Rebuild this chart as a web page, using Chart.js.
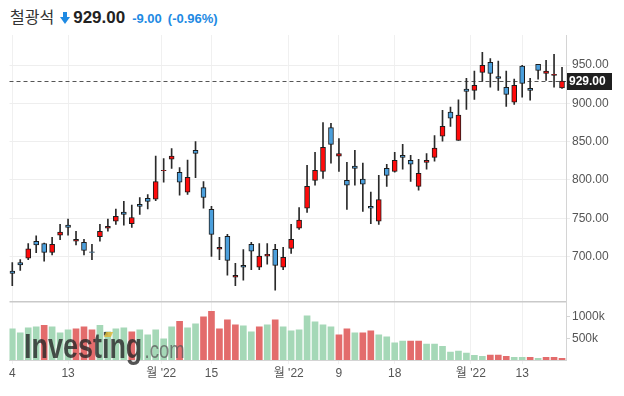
<!DOCTYPE html>
<html>
<head>
<meta charset="utf-8">
<script src="https://cdn.jsdelivr.net/npm/chart.js@4.4.0/dist/chart.umd.min.js"></script>
<style>
  html,body{margin:0;padding:0;background:#fff;}
  body{width:624px;height:396px;position:relative;overflow:hidden;font-family:Arial,"Liberation Sans",sans-serif;}
  #hdr{position:absolute;left:10px;top:4px;height:26px;display:flex;align-items:baseline;white-space:nowrap;}
  #name{font-family:"Noto Sans CJK KR",sans-serif;font-size:16px;color:#333;margin-right:6px;}
  #arrow{display:inline-block;width:10px;height:12px;margin-right:3px;position:relative;top:1px;}
  #last{font-size:17px;font-weight:bold;color:#222;}
  #chg{font-size:13px;font-weight:bold;color:#1e8ae3;margin-left:7px;}
  #pct{font-size:13px;font-weight:bold;color:#1e8ae3;margin-left:6px;}
  canvas{position:absolute;left:0;}
  #c1{top:35px;}
  #c2{top:301px;}
  #wm{position:absolute;left:24px;top:328px;line-height:35px;white-space:nowrap;transform:scaleX(0.77);transform-origin:0 0;pointer-events:none;}
  #wm .a{font-size:35px;font-weight:bold;color:rgba(40,40,40,0.8);}
  #wm .b{font-size:24px;color:rgba(90,90,90,0.75);margin-left:3px;}
  #dot{position:absolute;left:105px;top:332px;width:7px;height:5px;background:rgba(222,184,60,0.85);transform:skewX(-25deg);}
</style>
</head>
<body>
<div id="hdr">
  <span id="name">철광석</span>
  <svg id="arrow" viewBox="0 0 10 12"><rect x="3" y="0" width="4" height="6" fill="#1e8ae3"/><polygon points="0,5 10,5 5,12" fill="#1e8ae3"/></svg>
  <span id="last">929.00</span>
  <span id="chg">-9.00</span>
  <span id="pct">(-0.96%)</span>
</div>
<canvas id="c1" width="624" height="266"></canvas>
<canvas id="c2" width="624" height="95"></canvas>
<div id="wm"><span class="a">Investing</span><span class="b">.com</span></div>
<div id="dot"></div>
<script>
// ---- data (trading days 4 Jan – 20 Apr 2022) ----
const opens  = [681,692,698,720,717,705.5,728,741,720,718.5,706,726,737,746,758,743,768,776,775,812,827,810,784,838.5,790,761.5,709.5,726.5,673,688.5,716,686,700.5,709.5,686,710.5,737,763,799.5,811,868.5,831,799.5,818,801,765.5,746,815,811,832,825.5,791.5,823,829.5,857,888.5,851.5,918.5,917,940.5,953.5,935,921,901.5,948.5,919.5,951,939,936.5,920];
const highs  = [692,696,717,727,717.5,725,742,749,733,722.5,716,742,749,762,772,767,777,781,831,828,841,816,826,850,798,765.5,725,729,691,709,718.5,717,717,716,712,742,764,819,836,875,874,854,823,838.5,822,784,806,820.5,836,846.5,832,827,834.5,858,891,895,904.5,932.5,942,966.5,958.5,955,942,931.5,949.5,932.5,951,956,964,947];
const lows   = [662,682,696,705,694,702,722,728,715,702,696,720,733,742,741,738,755,762,773,797,815,780,781,803,763,700,696,675.5,662,669,683,683,690,656,683,704,735.5,757.5,793,802,822,811,761.5,793,759,743,742,791.5,810,814,798,786.5,814,824.5,850.5,870,851.5,892,905,928.5,921,917,896,898.5,908,904,931.5,930,921,919.5];
const closes = [678,689,710,715,705.5,716,732,738,722.5,708,705.5,733,739.5,752.5,755,751,765.5,772,798,812.5,831,797,803.5,834.5,777,729,712,695,675.5,686,707,700.5,703,688.5,699,722.5,747.5,791.5,812.5,842.5,846.5,834.5,793,815,794.5,763,774.5,806,825.5,829.5,820.5,808.5,825.5,841.5,870,880.5,884.5,915.5,923.5,949.5,939,932.5,911.5,923.5,926,917,943,942,938,929];
const volumesK = [724,631,747,770,801,770,631,701,724,770,701,801,655,724,747,655,701,585,701,493,770,893,747,839,1001,1124,724,932,816,793,655,770,816,932,770,678,701,1024,886,816,770,585,724,631,631,678,585,539,400,437,437,437,368,368,314,183,206,160,106,83,113,113,83,60,60,60,37,60,60,37];
const xTickPos    = [0,7,18.7,25,34.7,41,48,57.55,64];
const xTickLabels = ["4","13","월 '22","15","월 '22","9","18","월 '22","13"];
const priceTicks  = [700,750,800,850,900,950];
const volumeTicks = [500,1000];

// ---- styles ----
const RED = '#ff0b0b', BLUE = '#4b9fdc', EDGE = '#1c1c1c', WICK = '#2a2a2a';
const VGREEN = '#a5d8b7', VRED = '#e36c6c';
const AXIS = '#d4d4d4', GRID = '#f0f0f0', TXT = '#555';
const FONT = {family:"Arial, 'Liberation Sans', 'Noto Sans CJK KR', sans-serif", size:12};
const XMIN = -0.35, XMAX = 69.5;

const idx = closes.map((_, i) => i);
const lastClose = closes[closes.length - 1];

function xScale(extra) {
  return Object.assign({
    type: 'linear', min: XMIN, max: XMAX, offset: false,
    grid: {color: GRID, offset: false, drawTicks: false},
    border: {display: false},
    ticks: {display: false},
    afterBuildTicks: s => { s.ticks = xTickPos.map(v => ({value: v})); }
  }, extra);
}

const priceOverlay = {
  id: 'priceOverlay',
  beforeDatasetsDraw(chart) {
    const {ctx, chartArea} = chart;
    const y = Math.round(chart.scales.y.getPixelForValue(lastClose)) + 0.5;
    ctx.save();
    ctx.strokeStyle = '#555';
    ctx.lineWidth = 1;
    ctx.setLineDash([4, 3]);
    ctx.beginPath();
    ctx.moveTo(chartArea.left, y);
    ctx.lineTo(chartArea.right, y);
    ctx.stroke();
    ctx.restore();
  },
  afterDraw(chart) {
    const {ctx, chartArea} = chart;
    const y = chart.scales.y.getPixelForValue(lastClose);
    ctx.save();
    ctx.fillStyle = '#1f1f1f';
    ctx.fillRect(chartArea.right + 1, Math.round(y) - 8, 45, 17);
    ctx.fillStyle = '#fff';
    ctx.font = "bold 12px Arial, 'Liberation Sans', sans-serif";
    ctx.textBaseline = 'middle';
    ctx.textAlign = 'left';
    ctx.fillText(lastClose.toFixed(2), chartArea.right + 3, Math.round(y) + 0.5);
    ctx.restore();
  }
};

new Chart(document.getElementById('c1'), {
  type: 'bar',
  data: {
    datasets: [
      {
        label: 'body',
        data: idx.map(i => ({x: i, y: [opens[i], closes[i]]})),
        backgroundColor: idx.map(i => closes[i] >= opens[i] ? RED : BLUE),
        borderColor: EDGE, borderWidth: 1, borderSkipped: false,
        barThickness: 5, grouped: false, order: 0
      },
      {
        label: 'wick',
        data: idx.map(i => ({x: i, y: [lows[i], highs[i]]})),
        backgroundColor: WICK, borderWidth: 0,
        barThickness: 1, grouped: false, order: 1
      }
    ]
  },
  options: {
    responsive: false, animation: false, events: [],
    devicePixelRatio: 1,
    layout: {padding: {left: 9.5, right: 0, top: 0, bottom: 0}},
    plugins: {legend: {display: false}, tooltip: {enabled: false}},
    scales: {
      x: xScale({afterFit: s => { s.height = 0; s.paddingLeft = 0; s.paddingRight = 0; }}),
      y: {
        position: 'right', min: 641.94, max: 989.2,
        grid: {color: '#eeeeee', drawTicks: true, tickLength: 4},
        border: {display: true, color: AXIS},
        ticks: {color: TXT, font: FONT, padding: 2, callback: v => Number(v).toFixed(2)},
        afterBuildTicks: s => { s.ticks = priceTicks.map(v => ({value: v})); },
        afterFit: s => { s.width = 58; s.paddingTop = 0; s.paddingBottom = 0; }
      }
    }
  },
  plugins: [priceOverlay]
});

const volOverlay = {
  id: 'volOverlay',
  afterDraw(chart) {
    const {ctx, chartArea} = chart;
    ctx.save();
    ctx.strokeStyle = '#c9c9c9';
    ctx.lineWidth = 1.5;
    ctx.beginPath();
    ctx.moveTo(chartArea.left, chartArea.top + 0.75);
    ctx.lineTo(chartArea.right, chartArea.top + 0.75);
    ctx.stroke();
    ctx.restore();
  }
};

new Chart(document.getElementById('c2'), {
  type: 'bar',
  data: {
    datasets: [{
      label: 'volume',
      data: idx.map(i => ({x: i, y: volumesK[i]})),
      backgroundColor: idx.map(i => (i === 0 || closes[i] >= closes[i - 1]) ? VGREEN : VRED),
      borderWidth: 0, barThickness: 6, grouped: false
    }]
  },
  options: {
    responsive: false, animation: false, events: [],
    devicePixelRatio: 1,
    layout: {padding: {left: 9.5, right: 0, top: 0, bottom: 0}},
    plugins: {legend: {display: false}, tooltip: {enabled: false}},
    scales: {
      x: xScale({
        grid: {color: GRID, offset: false, drawTicks: true, tickLength: 4},
        border: {display: true, color: AXIS},
        ticks: {
          display: true, color: TXT, font: FONT, padding: 2,
          maxRotation: 0, autoSkip: false,
          callback: v => { const k = xTickPos.indexOf(v); return k >= 0 ? xTickLabels[k] : ''; }
        },
        afterFit: s => { s.height = 36; s.paddingLeft = 0; s.paddingRight = 0; }
      }),
      y: {
        position: 'right', min: 0, max: 1366,
        grid: {color: AXIS, drawOnChartArea: false, drawTicks: true, tickLength: 4},
        border: {display: true, color: AXIS},
        ticks: {color: TXT, font: FONT, padding: 2, callback: v => v + 'k'},
        afterBuildTicks: s => { s.ticks = volumeTicks.map(v => ({value: v})); },
        afterFit: s => { s.width = 58; s.paddingTop = 0; s.paddingBottom = 0; }
      }
    }
  },
  plugins: [volOverlay]
});
</script>
</body>
</html>
